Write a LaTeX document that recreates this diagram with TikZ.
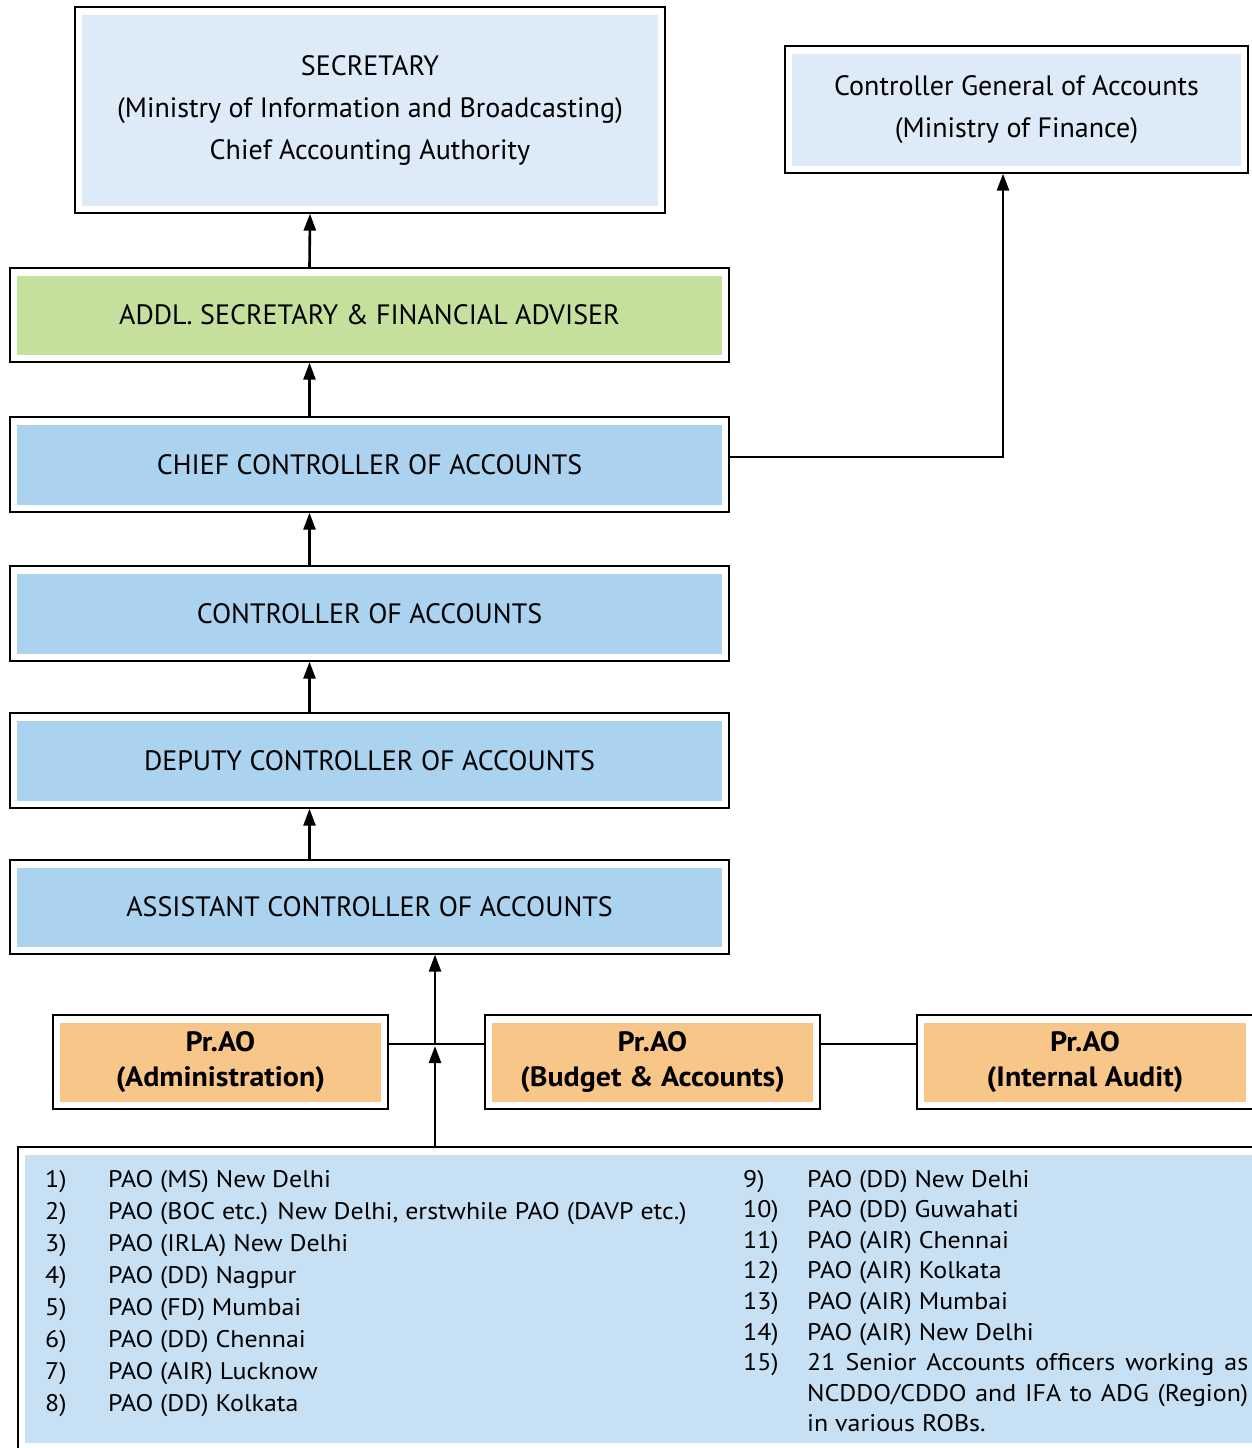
\documentclass[tikz,border=0pt]{standalone}
\usepackage{fontspec}
\setmainfont{PT Sans}
\newfontfamily\listfam{PT Sans}[FakeStretch=1.08]
\newfontfamily\boldfam{PT Sans}[FakeStretch=1.07]
\usetikzlibrary{arrows.meta}
\definecolor{paleblue}{HTML}{DDEAF7}
\definecolor{midblue}{HTML}{ABD2EE}
\definecolor{lightgreen}{HTML}{C5DF9C}
\definecolor{lightorange}{HTML}{F9C68A}
\definecolor{listblue}{HTML}{C8E0F4}
\begin{document}
\begin{tikzpicture}[x=1pt,y=-1pt,
  framebox/.style={draw=black, line width=1.3pt, fill=white, inner sep=0pt, align=center,
    path picture={\fill[#1] ([xshift=7pt,yshift=-7.5pt]path picture bounding box.north west) rectangle ([xshift=-7pt,yshift=7.5pt]path picture bounding box.south east);}},
  headfont/.style={font=\fontsize{28}{42}\selectfont},
  boldfont/.style={font=\boldfam\fontsize{28}{35}\selectfont\bfseries},
  listfont/.style={font=\listfam\fontsize{24}{30.6}\selectfont, inner sep=0pt, anchor=base west},
  arr/.style={line width=2.6pt, -{Triangle[length=17pt,width=12pt]}},
  link/.style={line width=2.6pt}]
\useasboundingbox (0,0) rectangle (1251,1448);
% boxes
\node[framebox=paleblue, headfont, minimum width=590pt, minimum height=206pt] (sec) at (370,110)
  {SECRETARY\\(Ministry of Information and Broadcasting)\\Chief Accounting Authority};
\node[framebox=paleblue, headfont, minimum width=463pt, minimum height=127pt] (cga) at (1016.5,109.5)
  {Controller General of Accounts\\(Ministry of Finance)};
\node[framebox=lightgreen, headfont, minimum width=719pt, minimum height=94pt] (addl) at (369.5,315)
  {ADDL. SECRETARY \& FINANCIAL ADVISER};
\node[framebox=midblue, headfont, minimum width=719pt, minimum height=95pt] (chief) at (369.5,464.5)
  {CHIEF CONTROLLER OF ACCOUNTS};
\node[framebox=midblue, headfont, minimum width=719pt, minimum height=95pt] (ctrl) at (369.5,613.5)
  {CONTROLLER OF ACCOUNTS};
\node[framebox=midblue, headfont, minimum width=719pt, minimum height=95pt] (dep) at (369.5,760.5)
  {DEPUTY CONTROLLER OF ACCOUNTS};
\node[framebox=midblue, headfont, minimum width=719pt, minimum height=94pt] (asst) at (369.5,907)
  {ASSISTANT CONTROLLER OF ACCOUNTS};
\node[framebox=lightorange, boldfont, minimum width=335pt, minimum height=94pt] (adm) at (220.5,1062)
  {Pr.AO\\(Administration)};
\node[framebox=lightorange, boldfont, minimum width=335pt, minimum height=94pt] (bud) at (652.5,1062)
  {Pr.AO\\(Budget \& Accounts)};
\node[framebox=lightorange, boldfont, minimum width=336pt, minimum height=94pt] (ia) at (1085,1062)
  {Pr.AO\\(Internal Audit)};
\node[framebox=listblue, minimum width=1244pt, minimum height=303pt] (list) at (640,1298.5) {};
% list, left column
\foreach \n/\t [count=\i from 0] in {1)/PAO (MS) New Delhi,
  2)/{PAO (BOC etc.) New Delhi, erstwhile PAO (DAVP etc.)},
  3)/PAO (IRLA) New Delhi, 4)/PAO (DD) Nagpur, 5)/PAO (FD) Mumbai,
  6)/PAO (DD) Chennai, 7)/PAO (AIR) Lucknow, 8)/PAO (DD) Kolkata}{
  \node[listfont] (ln\i) at (45,1187+32*\i) {\n};
  \node[listfont] (lt\i) at (108,1187+32*\i) {\t};
}
% list, right column
\foreach \n/\t [count=\i from 0] in {9)/PAO (DD) New Delhi, 10)/PAO (DD) Guwahati,
  11)/PAO (AIR) Chennai, 12)/PAO (AIR) Kolkata, 13)/PAO (AIR) Mumbai,
  14)/PAO (AIR) New Delhi,
  15)/\makebox[441pt][s]{21 Senior Accounts officers working as}}{
  \node[listfont] (rn\i) at (743,1187+30.6*\i) {\n};
  \node[listfont] (rt\i) at (807,1187+30.6*\i) {\t};
}
\node[listfont] (rt7) at (807,1187+30.6*7) {\makebox[441pt][s]{NCDDO/CDDO and IFA to ADG (Region)}};
\node[listfont] (rt8) at (807,1187+30.6*8) {in various ROBs.};
% connectors
\draw[arr] ([xshift=-60pt]addl.north) -- ([xshift=-60pt]sec.south);
\draw[arr] ([xshift=-60pt]chief.north) -- ([xshift=-60pt]addl.south);
\draw[arr] ([xshift=-60pt]ctrl.north) -- ([xshift=-60pt]chief.south);
\draw[arr] ([xshift=-60pt]dep.north) -- ([xshift=-60pt]ctrl.south);
\draw[arr] ([xshift=-60pt]asst.north) -- ([xshift=-60pt]dep.south);
\draw[arr] ([yshift=7.5pt]chief.east) -| ([xshift=-13.5pt]cga.south);
\draw[link] ([yshift=18pt]adm.east) -- ([yshift=18pt]bud.west);
\draw[link] ([yshift=18pt]bud.east) -- ([yshift=18pt]ia.west);
\coordinate (J) at (435,1044);
\draw[arr] (J) -- (J |- asst.south);
\draw[arr] (J |- list.north) -- ([yshift=-2pt]J);
\end{tikzpicture}
\end{document}
